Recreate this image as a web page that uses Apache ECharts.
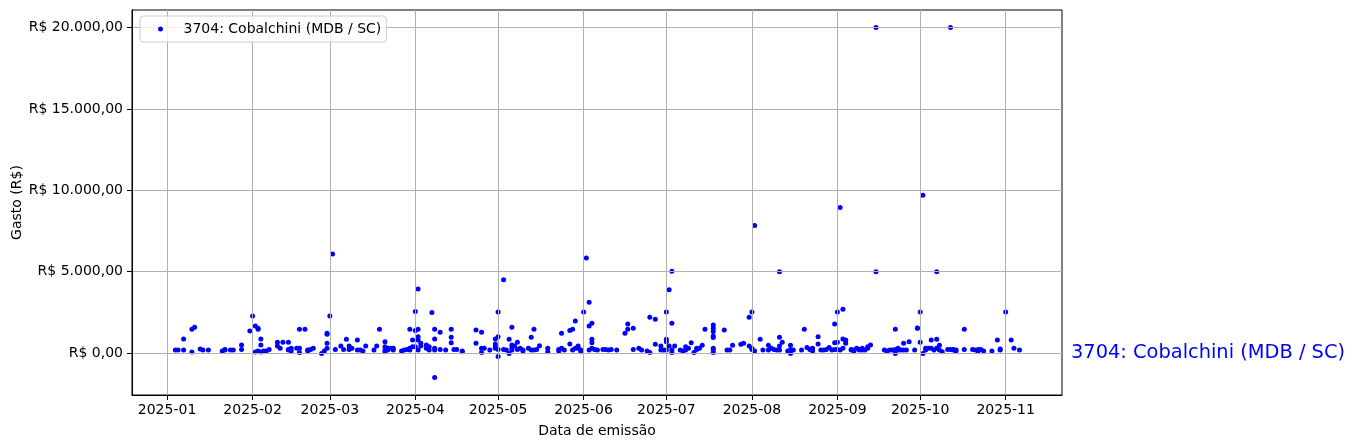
<!DOCTYPE html>
<html>
<head>
<meta charset="utf-8">
<script src="https://cdn.jsdelivr.net/npm/echarts@6/dist/echarts.min.js"></script>
<style>
html,body{margin:0;padding:0;background:#fff;}
#chart{width:1355px;height:448px;}
</style>
</head>
<body>
<div id="chart"></div>
<script>
// ---- data ----
const seriesName = '3704: Cobalchini (MDB / SC)';
const monthTicks = ['2025-01-01','2025-02-01','2025-03-01','2025-04-01','2025-05-01','2025-06-01',
  '2025-07-01','2025-08-01','2025-09-01','2025-10-01','2025-11-01'];
const yTicks = [0, 5000, 10000, 15000, 20000];
const xRange = ['2024-12-19T07:00:00Z', '2025-11-21T10:00:00Z'];
const yRange = [-2575, 21075];
// expenses: [emission date, amount in R$]
const expenses = [
  ['2025-01-04',185],['2025-01-05',185],['2025-01-07',185],['2025-01-07',865],['2025-01-10',60],['2025-01-10',1460],
  ['2025-01-11',1585],['2025-01-13',250],['2025-01-14',185],['2025-01-16',185],['2025-01-21',125],['2025-01-22',185],
  ['2025-01-22',225],['2025-01-24',185],['2025-01-25',185],['2025-01-28',225],['2025-01-28',495],['2025-01-31',1360],
  ['2025-02-01',2285],['2025-02-02',1670],['2025-02-03',1525],['2025-02-03',1460],['2025-02-04',865],['2025-02-04',495],
  ['2025-02-02',60],['2025-02-03',125],['2025-02-04',60],['2025-02-05',125],['2025-02-06',125],['2025-02-07',225],
  ['2025-02-10',660],['2025-02-10',430],['2025-02-11',290],['2025-02-12',660],['2025-02-14',660],['2025-02-14',225],
  ['2025-02-14',185],['2025-02-15',290],['2025-02-15',125],['2025-02-17',290],['2025-02-18',290],['2025-02-18',40],
  ['2025-02-18',1460],['2025-02-20',1460],['2025-02-21',125],['2025-02-21',185],['2025-02-22',225],['2025-02-23',290],
  ['2025-02-26',-20],['2025-02-27',125],['2025-02-28',290],['2025-02-28',1215],['2025-02-28',1155],['2025-02-28',600],
  ['2025-03-01',2285],['2025-03-02',6090],['2025-03-03',225],['2025-03-05',430],['2025-03-06',225],['2025-03-07',845],
  ['2025-03-08',430],['2025-03-08',225],['2025-03-09',290],['2025-03-11',800],['2025-03-11',185],['2025-03-12',185],
  ['2025-03-13',125],['2025-03-14',430],['2025-03-17',185],['2025-03-18',430],['2025-03-19',1460],['2025-03-21',185],
  ['2025-03-21',390],['2025-03-21',700],['2025-03-21',80],['2025-03-22',290],['2025-03-22',185],['2025-03-23',290],
  ['2025-03-24',185],['2025-03-24',290],['2025-03-27',125],['2025-03-28',185],['2025-03-29',225],['2025-03-30',290],
  ['2025-03-30',1460],['2025-03-30',185],['2025-03-31',390],['2025-03-31',800],
  ['2025-04-01',1380],['2025-04-01',2550],['2025-04-01',390],['2025-04-02',1460],['2025-04-02',1010],['2025-04-02',800],
  ['2025-04-02',185],['2025-04-02',3930],['2025-04-03',430],['2025-04-03',600],['2025-04-05',495],['2025-04-05',290],
  ['2025-04-06',390],['2025-04-06',185],['2025-04-07',2490],['2025-04-08',1460],['2025-04-08',865],['2025-04-08',290],
  ['2025-04-08',185],['2025-04-08',-1500],['2025-04-10',1275],['2025-04-10',225],['2025-04-12',185],['2025-04-14',1460],
  ['2025-04-14',970],['2025-04-14',640],['2025-04-15',225],['2025-04-16',225],['2025-04-18',125],['2025-04-18',80],
  ['2025-04-23',1420],['2025-04-23',600],['2025-04-25',1275],['2025-04-25',290],['2025-04-25',40],['2025-04-26',290],
  ['2025-04-28',185],['2025-04-30',865],['2025-04-30',290],['2025-04-30',555],['2025-04-30',390],
  ['2025-05-01',1010],['2025-05-01',2530],['2025-05-01',-205],['2025-05-01',225],['2025-05-03',4510],['2025-05-03',225],
  ['2025-05-04',185],['2025-05-05',845],['2025-05-06',1585],['2025-05-05',-20],['2025-05-06',495],['2025-05-06',350],
  ['2025-05-06',185],['2025-05-07',430],['2025-05-08',660],['2025-05-08',225],['2025-05-09',290],['2025-05-10',185],
  ['2025-05-10',125],['2025-05-12',290],['2025-05-13',968],['2025-05-13',185],['2025-05-14',1460],['2025-05-14',185],
  ['2025-05-15',225],['2025-05-16',453],['2025-05-19',290],['2025-05-19',80],['2025-05-23',125],['2025-05-23',225],
  ['2025-05-24',1215],['2025-05-24',290],['2025-05-25',185],['2025-05-27',555],['2025-05-27',1380],['2025-05-28',185],
  ['2025-05-28',1460],['2025-05-29',1975],['2025-05-29',290],['2025-05-30',430],['2025-05-30',290],['2025-05-31',185],
  ['2025-05-31',80],
  ['2025-06-01',2530],['2025-06-02',5845],['2025-06-03',3130],['2025-06-03',1670],['2025-06-04',1830],['2025-06-04',845],
  ['2025-06-04',640],['2025-06-03',185],['2025-06-04',290],['2025-06-05',225],['2025-06-06',185],['2025-06-08',225],
  ['2025-06-09',225],['2025-06-10',185],['2025-06-11',225],['2025-06-13',185],['2025-06-17',1790],['2025-06-17',1460],
  ['2025-06-16',1215],['2025-06-19',1525],['2025-06-19',225],['2025-06-21',290],['2025-06-22',185],['2025-06-24',125],
  ['2025-06-25',40],['2025-06-25',2200],['2025-06-27',2080],['2025-06-27',535],['2025-06-29',430],['2025-06-29',185],
  ['2025-06-30',185],
  ['2025-07-01',845],['2025-07-01',700],['2025-07-01',185],['2025-07-01',2530],['2025-07-02',3890],['2025-07-03',1830],
  ['2025-07-03',5020],['2025-07-02',430],['2025-07-03',185],['2025-07-03',40],['2025-07-04',430],['2025-07-06',185],
  ['2025-07-07',125],['2025-07-08',390],['2025-07-08',185],['2025-07-09',290],['2025-07-10',640],['2025-07-11',40],
  ['2025-07-12',225],['2025-07-12',290],['2025-07-13',290],['2025-07-14',474],['2025-07-15',1460],['2025-07-18',1730],
  ['2025-07-18',1525],['2025-07-18',1320],['2025-07-18',1050],['2025-07-18',950],['2025-07-18',290],['2025-07-18',185],
  ['2025-07-18',40],['2025-07-22',1420],['2025-07-23',185],['2025-07-24',185],['2025-07-25',474],['2025-07-28',535],
  ['2025-07-29',600],['2025-07-31',430],['2025-07-31',2200],
  ['2025-08-01',290],['2025-08-01',2530],['2025-08-01',225],['2025-08-02',125],['2025-08-02',7840],['2025-08-04',845],
  ['2025-08-05',185],['2025-08-07',185],['2025-08-07',474],['2025-08-08',290],['2025-08-09',225],['2025-08-10',185],
  ['2025-08-11',430],['2025-08-11',968],['2025-08-12',660],['2025-08-11',185],['2025-08-11',5000],['2025-08-14',125],
  ['2025-08-15',-20],['2025-08-15',474],['2025-08-15',225],['2025-08-16',185],['2025-08-19',185],['2025-08-20',1460],
  ['2025-08-21',350],['2025-08-22',225],['2025-08-23',290],['2025-08-23',125],['2025-08-25',1010],['2025-08-25',555],
  ['2025-08-26',185],['2025-08-27',185],['2025-08-28',225],['2025-08-29',350],['2025-08-30',185],['2025-08-31',1790],
  ['2025-08-31',225],['2025-08-31',640],
  ['2025-09-01',2530],['2025-09-01',660],['2025-09-01',225],['2025-09-02',185],['2025-09-02',8950],['2025-09-03',2700],
  ['2025-09-03',865],['2025-09-04',800],['2025-09-04',780],['2025-09-04',600],['2025-09-03',290],['2025-09-06',185],
  ['2025-09-06',225],['2025-09-07',185],['2025-09-07',125],['2025-09-08',290],['2025-09-09',185],['2025-09-09',225],
  ['2025-09-10',290],['2025-09-10',185],['2025-09-11',185],['2025-09-12',390],['2025-09-12',290],['2025-09-13',495],
  ['2025-09-15',5000],['2025-09-15',20000],['2025-09-18',185],['2025-09-19',125],['2025-09-20',185],['2025-09-21',185],
  ['2025-09-22',225],['2025-09-22',1460],['2025-09-22',-20],['2025-09-23',290],['2025-09-23',185],['2025-09-24',185],
  ['2025-09-25',600],['2025-09-25',185],['2025-09-26',185],['2025-09-27',700],['2025-09-29',185],['2025-09-30',1525],
  ['2025-09-30',1540],
  ['2025-10-01',2530],['2025-10-01',660],['2025-10-02',-20],['2025-10-02',9690],['2025-10-03',185],['2025-10-03',290],
  ['2025-10-04',290],['2025-10-05',290],['2025-10-05',800],['2025-10-06',185],['2025-10-07',290],['2025-10-07',845],
  ['2025-10-08',474],['2025-10-07',5000],['2025-10-08',185],['2025-10-09',80],['2025-10-11',225],['2025-10-12',225],
  ['2025-10-12',20000],['2025-10-13',225],['2025-10-13',185],['2025-10-14',185],['2025-10-14',125],['2025-10-17',1460],
  ['2025-10-17',225],['2025-10-20',225],['2025-10-21',185],['2025-10-22',125],['2025-10-22',225],['2025-10-23',225],
  ['2025-10-24',125],['2025-10-27',125],['2025-10-29',800],['2025-10-30',185],['2025-10-30',250],
  ['2025-11-01',2530],['2025-11-03',800],['2025-11-04',290],['2025-11-06',185]
];

// ---- helpers ----
function utc(s){ return Date.parse(s.length === 10 ? s + 'T00:00:00Z' : s); }
function brl(v){
  const s = Math.abs(Math.round(v)).toString().replace(/\B(?=(\d{3})+(?!\d))/g, '.');
  return 'R$ ' + (v < 0 ? '-' : '') + s + ',00';
}
function ym(v){
  const d = new Date(v);
  return d.getUTCFullYear() + '-' + String(d.getUTCMonth() + 1).padStart(2, '0');
}
const FONT = 'DejaVu Sans';
const FS = 14;
const tickTs = monthTicks.map(utc);

const chart = echarts.init(document.getElementById('chart'), null, {renderer: 'canvas'});
chart.setOption({
  animation: false,
  backgroundColor: '#ffffff',
  textStyle: {fontFamily: FONT},
  grid: {left: 132, right: 293, top: 10, bottom: 53, show: true, borderColor: '#000', borderWidth: 1,
         backgroundColor: 'transparent', outerBoundsMode: 'none', containLabel: false},
  legend: {
    left: 140, top: 16, orient: 'vertical',
    padding: [5, 5, 5, 18],
    backgroundColor: 'rgba(255,255,255,0.8)', borderColor: '#cccccc', borderWidth: 1, borderRadius: 3,
    icon: 'circle', itemWidth: 36, itemHeight: 5,
    textStyle: {fontFamily: FONT, fontSize: FS, color: '#000', lineHeight: 16},
    data: [seriesName]
  },
  xAxis: {
    type: 'value', z: 3, scale: true,
    min: utc(xRange[0]), max: utc(xRange[1]),
    name: 'Data de emissão', nameLocation: 'middle', nameGap: 29, nameMoveOverlap: false,
    nameTextStyle: {fontFamily: FONT, fontSize: FS, color: '#000'},
    axisLine: {show: true, onZero: false, lineStyle: {color: '#000', width: 1}},
    axisTick: {show: true, inside: false, length: 5, lineStyle: {color: '#000'}, customValues: tickTs},
    axisLabel: {customValues: tickTs, formatter: ym, margin: 8, fontFamily: FONT, fontSize: FS, color: '#000'},
    splitLine: {show: true, lineStyle: {color: '#b0b0b0', width: 1}}
  },
  yAxis: {
    type: 'value', z: 3,
    min: yRange[0], max: yRange[1],
    name: 'Gasto (R$)', nameLocation: 'middle', nameGap: 108, nameMoveOverlap: false,
    nameTextStyle: {fontFamily: FONT, fontSize: FS, color: '#000'},
    axisLine: {show: true, onZero: false, lineStyle: {color: '#000', width: 1}},
    axisTick: {show: true, inside: false, length: 5, lineStyle: {color: '#000'}, customValues: yTicks},
    axisLabel: {customValues: yTicks, formatter: brl, margin: 9, fontFamily: FONT, fontSize: FS, color: '#000'},
    splitLine: {show: true, lineStyle: {color: '#b0b0b0', width: 1}}
  },
  series: [{
    name: seriesName,
    type: 'scatter', z: 2,
    symbol: 'circle', symbolSize: 5,
    itemStyle: {color: '#0000ff', opacity: 1},
    data: expenses.map(p => [utc(p[0]), p[1]])
  }]
});

const pt = chart.convertToPixel({gridIndex: 0}, [utc(xRange[1]), 0]);
chart.setOption({
  graphic: [{
    type: 'text', x: pt[0] + 9, y: pt[1],
    style: {text: seriesName, fill: '#0000ff', font: '19.4px "DejaVu Sans"', verticalAlign: 'middle', align: 'left'}
  }]
});
</script>
</body>
</html>
